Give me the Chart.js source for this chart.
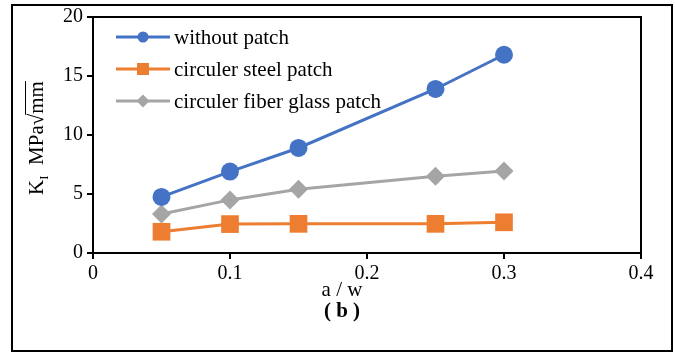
<!DOCTYPE html>
<html><head><meta charset="utf-8">
<script src="https://cdn.jsdelivr.net/npm/chart.js@4/dist/chart.umd.min.js"></script>
<style>html,body{margin:0;padding:0;background:#fff}#w{width:675px;height:353px}</style>
</head><body><div id="w"><canvas id="c" width="675" height="353"></canvas></div>
<script>
const ratios = [0.05, 0.1, 0.15, 0.25, 0.3];
const withoutPatch = [4.75, 6.9, 8.9, 13.9, 16.8];
const steelPatch = [1.8, 2.45, 2.47, 2.47, 2.6];
const fiberGlassPatch = [3.3, 4.5, 5.4, 6.5, 6.95];
const seriesNames = ["without patch", "circuler steel patch", "circuler fiber glass patch"];
const xTitle = "a / w";
const caption = "( b )";

const FONT = "'Liberation Serif', 'Times New Roman', serif";
const pts = a => a.map((v, i) => ({x: ratios[i], y: v}));
const legendRadius = [5.5, 8.5, 6.5];

const deco = {
  id: 'deco',
  afterDraw(chart) {
    const ctx = chart.ctx, ca = chart.chartArea;
    ctx.save();
    ctx.strokeStyle = '#000'; ctx.lineWidth = 2;
    ctx.strokeRect(ca.left, ca.top, ca.right - ca.left, ca.bottom - ca.top);
    ctx.strokeRect(12, 5, 660, 346);
    // legend
    const ds = chart.data.datasets;
    ctx.font = '21px ' + FONT;
    ctx.textBaseline = 'middle'; ctx.textAlign = 'left';
    const ys = [37, 69, 101];
    ds.forEach((d, i) => {
      const y = ys[i];
      ctx.strokeStyle = d.borderColor; ctx.lineWidth = 3;
      ctx.beginPath(); ctx.moveTo(116, y); ctx.lineTo(170, y); ctx.stroke();
      ctx.fillStyle = d.borderColor;
      Chart.helpers.drawPoint(ctx, {pointStyle: d.pointStyle, radius: legendRadius[i], rotation: 0, borderWidth: 0}, 143, y);
      ctx.fillStyle = '#000';
      ctx.fillText(seriesNames[i], 174, y + 1);
    });
    ctx.restore();
    // y title with subscript
    ctx.save();
    ctx.translate(36, 138);
    ctx.rotate(-Math.PI / 2);
    ctx.fillStyle = '#000'; ctx.strokeStyle = '#000';
    ctx.textBaseline = 'alphabetic'; ctx.textAlign = 'left';
    const big = '21px ' + FONT, small = '13px ' + FONT;
    const k = 'K', mid = '  MPa', rad = '\u221A', mm = 'mm';
    ctx.font = big; const wk = ctx.measureText(k).width, wm = ctx.measureText(mid).width, wr = ctx.measureText(rad).width, wmm = ctx.measureText(mm).width;
    ctx.font = small; const wi = ctx.measureText('I').width;
    let x = -(wk + wi + wm + wr + wmm) / 2;
    ctx.font = big; ctx.fillText(k, x, 7); x += wk;
    ctx.font = small; ctx.fillText('I', x, 12); x += wi;
    ctx.font = big; ctx.fillText(mid, x, 7); x += wm;
    ctx.fillText(rad, x, 7); x += wr;
    ctx.fillText(mm, x, 7);
    ctx.lineWidth = 1;
    ctx.beginPath(); ctx.moveTo(x - 1, -10.5); ctx.lineTo(x + wmm, -10.5); ctx.stroke();
    ctx.restore();
    // x title + caption
    ctx.save();
    ctx.fillStyle = '#000'; ctx.textAlign = 'center'; ctx.textBaseline = 'middle';
    ctx.font = '21px ' + FONT;
    ctx.fillText(xTitle, 342, 290);
    ctx.font = 'bold 21px ' + FONT;
    ctx.fillText(caption, 342, 312);
    ctx.restore();
  }
};

new Chart(document.getElementById('c'), {
  type: 'line',
  data: {
    datasets: [
      {label: seriesNames[0], data: pts(withoutPatch), borderColor: '#4472C4', backgroundColor: '#4472C4', pointStyle: 'circle', pointRadius: 9, pointBorderWidth: 0, borderWidth: 3},
      {label: seriesNames[1], data: pts(steelPatch), borderColor: '#ED7D31', backgroundColor: '#ED7D31', pointStyle: 'rect', pointRadius: 12.5, pointBorderWidth: 0, borderWidth: 3},
      {label: seriesNames[2], data: pts(fiberGlassPatch), borderColor: '#A5A5A5', backgroundColor: '#A5A5A5', pointStyle: 'rectRot', pointRadius: 9.5, pointBorderWidth: 0, borderWidth: 3}
    ]
  },
  options: {
    responsive: false, animation: false,
    layout: {padding: {left: 0, top: 17, right: 34, bottom: 0}},
    plugins: {legend: {display: false}, tooltip: {enabled: false}},
    scales: {
      x: {
        type: 'linear', min: 0, max: 0.4,
        ticks: {stepSize: 0.1, color: '#000', font: {family: FONT, size: 20}, padding: 3},
        grid: {drawOnChartArea: false, color: '#000', tickLength: 6, lineWidth: 2},
        border: {color: '#000', width: 2},
        afterFit: s => { s.height = 100; }
      },
      y: {
        min: 0, max: 20,
        ticks: {stepSize: 5, color: '#000', font: {family: FONT, size: 20}, padding: 4},
        grid: {drawOnChartArea: false, color: '#000', tickLength: 6, lineWidth: 2},
        border: {color: '#000', width: 2},
        afterFit: s => { s.width = 93; }
      }
    }
  },
  plugins: [deco]
});
</script>
</body></html>
